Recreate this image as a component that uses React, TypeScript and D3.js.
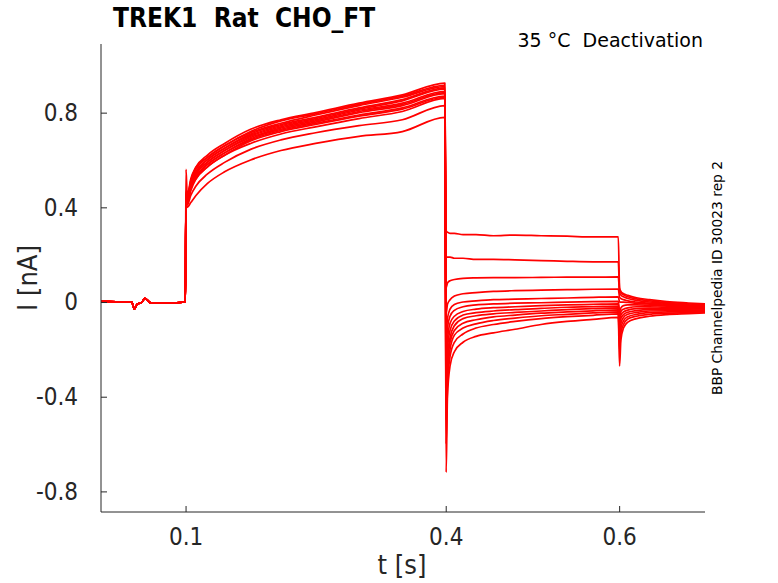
import { useEffect, useRef } from 'react'
import * as d3 from 'd3'

// holding period before the step (shared by all sweeps)
const baseTimes = [0.0025, 0.02, 0.038, 0.041, 0.044, 0.05, 0.053, 0.06, 0.08, 0.0998]
const baseValues = [0.002, 0.001, 0.0, -0.03, -0.01, 0.0, 0.016, -0.004, -0.004, 0.0]

// activating step 0.1 - 0.4 s
const actTimes = [0.1005, 0.102, 0.106, 0.112, 0.125, 0.145, 0.175, 0.21, 0.25, 0.3, 0.35, 0.399]
const actValues = [
  [0.56, 0.45, 0.52, 0.57, 0.62, 0.67, 0.73, 0.77, 0.8, 0.84, 0.875, 0.925],
  [0.47, 0.44, 0.51, 0.57, 0.61, 0.66, 0.72, 0.765, 0.795, 0.835, 0.87, 0.915],
  [0.46, 0.44, 0.51, 0.56, 0.61, 0.66, 0.715, 0.755, 0.79, 0.83, 0.865, 0.91],
  [0.46, 0.44, 0.5, 0.55, 0.6, 0.65, 0.71, 0.75, 0.78, 0.82, 0.855, 0.905],
  [0.46, 0.43, 0.5, 0.55, 0.6, 0.65, 0.705, 0.745, 0.775, 0.815, 0.85, 0.9],
  [0.45, 0.43, 0.49, 0.54, 0.59, 0.64, 0.7, 0.74, 0.77, 0.81, 0.84, 0.89],
  [0.45, 0.43, 0.49, 0.54, 0.59, 0.64, 0.695, 0.735, 0.765, 0.805, 0.835, 0.885],
  [0.45, 0.43, 0.49, 0.53, 0.58, 0.63, 0.69, 0.73, 0.76, 0.8, 0.83, 0.88],
  [0.45, 0.42, 0.48, 0.53, 0.58, 0.63, 0.685, 0.725, 0.755, 0.79, 0.82, 0.87],
  [0.44, 0.42, 0.48, 0.52, 0.57, 0.62, 0.68, 0.72, 0.75, 0.785, 0.815, 0.865],
  [0.44, 0.42, 0.47, 0.52, 0.57, 0.62, 0.67, 0.71, 0.74, 0.775, 0.805, 0.86],
  [0.43, 0.41, 0.45, 0.49, 0.54, 0.59, 0.645, 0.685, 0.715, 0.745, 0.77, 0.83],
  [0.42, 0.4, 0.42, 0.45, 0.5, 0.55, 0.6, 0.64, 0.67, 0.7, 0.72, 0.78]
]

// deactivation tails 0.4 - 0.6 s
const tailTimes = [0.4005, 0.402, 0.405, 0.41, 0.42, 0.435, 0.455, 0.48, 0.51, 0.54, 0.57, 0.599]
const tailValues = [
  [0.3, 0.295, 0.29, 0.29, 0.285, 0.285, 0.28, 0.283, 0.28, 0.278, 0.275, 0.275],
  [0.19, 0.19, 0.19, 0.185, 0.185, 0.18, 0.18, 0.178, 0.175, 0.172, 0.17, 0.17],
  [0.06, 0.08, 0.09, 0.095, 0.1, 0.102, 0.103, 0.103, 0.104, 0.105, 0.105, 0.106],
  [-0.05, -0.01, 0.01, 0.025, 0.035, 0.04, 0.045, 0.048, 0.05, 0.052, 0.054, 0.055],
  [-0.12, -0.07, -0.03, -0.01, 0.0, 0.005, 0.01, 0.012, 0.015, 0.017, 0.02, 0.022],
  [-0.18, -0.11, -0.06, -0.035, -0.02, -0.012, -0.008, -0.005, -0.003, 0.0, 0.002, 0.003],
  [-0.24, -0.16, -0.09, -0.06, -0.04, -0.03, -0.024, -0.02, -0.015, -0.012, -0.01, -0.008],
  [-0.3, -0.2, -0.12, -0.08, -0.055, -0.045, -0.038, -0.032, -0.027, -0.022, -0.02, -0.017],
  [-0.36, -0.24, -0.15, -0.1, -0.07, -0.058, -0.05, -0.044, -0.038, -0.032, -0.028, -0.025],
  [-0.43, -0.28, -0.17, -0.12, -0.09, -0.075, -0.063, -0.055, -0.047, -0.042, -0.037, -0.033],
  [-0.5, -0.32, -0.2, -0.14, -0.11, -0.092, -0.078, -0.068, -0.058, -0.052, -0.046, -0.042],
  [-0.6, -0.36, -0.23, -0.17, -0.135, -0.11, -0.095, -0.082, -0.07, -0.062, -0.056, -0.05],
  [-0.72, -0.4, -0.27, -0.21, -0.17, -0.145, -0.13, -0.115, -0.095, -0.082, -0.073, -0.065]
]

// return to holding 0.6 s - end
const postTimes = [0.6005, 0.602, 0.605, 0.61, 0.62, 0.635, 0.655, 0.68, 0.699]
const postValues = [
  [0.06, 0.045, 0.035, 0.028, 0.018, 0.01, 0.002, -0.004, -0.008],
  [0.05, 0.04, 0.03, 0.022, 0.013, 0.005, -0.002, -0.008, -0.012],
  [0.04, 0.03, 0.022, 0.015, 0.007, 0.0, -0.006, -0.012, -0.015],
  [0.02, 0.015, 0.01, 0.005, 0.0, -0.005, -0.01, -0.015, -0.018],
  [0.0, 0.0, 0.0, -0.002, -0.005, -0.009, -0.013, -0.018, -0.021],
  [-0.04, -0.025, -0.015, -0.012, -0.012, -0.014, -0.017, -0.021, -0.024],
  [-0.06, -0.04, -0.03, -0.025, -0.02, -0.02, -0.022, -0.025, -0.027],
  [-0.08, -0.055, -0.042, -0.034, -0.028, -0.026, -0.027, -0.029, -0.03],
  [-0.1, -0.07, -0.053, -0.043, -0.036, -0.032, -0.032, -0.033, -0.034],
  [-0.13, -0.09, -0.065, -0.052, -0.044, -0.038, -0.037, -0.037, -0.037],
  [-0.16, -0.11, -0.08, -0.062, -0.052, -0.045, -0.042, -0.041, -0.04],
  [-0.2, -0.13, -0.095, -0.072, -0.06, -0.052, -0.047, -0.045, -0.043],
  [-0.27, -0.16, -0.11, -0.085, -0.07, -0.06, -0.053, -0.049, -0.046]
]

const xTicks = [0.1, 0.4, 0.6]
const yTicks = [-0.8, -0.4, 0, 0.4, 0.8]

const title = 'TREK1  Rat  CHO_FT'
const subtitle = '35 °C  Deactivation'
const sideNote = 'BBP Channelpedia ID 30023 rep 2'

const W = 778
const H = 583
const axisColor = '#262626'
const font = 'DejaVu Sans, sans-serif'
const condFont = '"DejaVu Sans Condensed", "DejaVu Sans", sans-serif'

export default function App() {
  const svgRef = useRef<SVGSVGElement>(null)

  useEffect(() => {
    if (!svgRef.current) return
    const svg = d3.select(svgRef.current)
    svg.selectAll('*').remove()

    const x = d3.scaleLinear().domain([0.0025, 0.699]).range([101, 705])
    const y = d3.scaleLinear().domain([-0.887, 1.09]).range([512, 44])

    const sweeps = actValues.map((_, i) => {
      const pts: [number, number][] = []
      baseTimes.forEach((t, j) => pts.push([t, baseValues[j]]))
      actTimes.forEach((t, j) => pts.push([t, actValues[i][j]]))
      tailTimes.forEach((t, j) => pts.push([t, tailValues[i][j]]))
      postTimes.forEach((t, j) => pts.push([t, postValues[i][j]]))
      return pts
    })

    const line = d3.line<[number, number]>()
      .x(d => x(d[0]))
      .y(d => y(d[1]))
      .curve(d3.curveMonotoneX)

    svg.append('g')
      .selectAll('path')
      .data(sweeps)
      .enter()
      .append('path')
      .attr('d', line)
      .attr('fill', 'none')
      .attr('stroke', '#ff0000')
      .attr('stroke-width', 1.7)
      .attr('stroke-linejoin', 'round')

    // axes (ticks point inward, no box)
    const yAxis = svg.append('g')
      .attr('transform', `translate(${x.range()[0]},0)`)
      .call(d3.axisLeft(y).tickValues(yTicks).tickSize(-6).tickPadding(23).tickFormat(d => String(d)))
    const xAxis = svg.append('g')
      .attr('transform', `translate(0,${y.range()[0]})`)
      .call(d3.axisBottom(x).tickValues(xTicks).tickSize(-6).tickPadding(16).tickFormat(d => String(d)))

    for (const ax of [xAxis, yAxis]) {
      ax.select('.domain').remove()
      ax.selectAll('.tick line').attr('stroke', axisColor)
      ax.selectAll('.tick text')
        .attr('fill', axisColor)
        .style('font-family', condFont)
        .style('font-stretch', 'condensed')
        .style('font-size', '24px')
    }
    svg.append('line')
      .attr('x1', x.range()[0]).attr('x2', x.range()[0])
      .attr('y1', y.range()[1]).attr('y2', y.range()[0])
      .attr('stroke', axisColor)
    svg.append('line')
      .attr('x1', x.range()[0]).attr('x2', x.range()[1])
      .attr('y1', y.range()[0]).attr('y2', y.range()[0])
      .attr('stroke', axisColor)

    // labels
    svg.append('text')
      .attr('x', 113).attr('y', 27)
      .style('font-family', condFont).style('font-stretch', 'condensed')
      .style('font-size', '26px').style('font-weight', 'bold')
      .style('white-space', 'pre')
      .text(title)

    svg.append('text')
      .attr('x', 703).attr('y', 47)
      .attr('text-anchor', 'end')
      .style('font-family', font).style('font-size', '19px')
      .style('white-space', 'pre')
      .text(subtitle)

    svg.append('text')
      .attr('transform', 'translate(722,278) rotate(-90)')
      .attr('text-anchor', 'middle')
      .style('font-family', font).style('font-size', '13.8px')
      .text(sideNote)

    svg.append('text')
      .attr('transform', 'translate(37,278) rotate(-90)')
      .attr('text-anchor', 'middle')
      .attr('fill', axisColor)
      .style('font-family', condFont).style('font-stretch', 'condensed')
      .style('font-size', '27px')
      .text('I [nA]')

    svg.append('text')
      .attr('x', 402).attr('y', 574)
      .attr('text-anchor', 'middle')
      .attr('fill', axisColor)
      .style('font-family', condFont).style('font-stretch', 'condensed')
      .style('font-size', '27px')
      .text('t [s]')
  }, [])

  return (
    <svg
      ref={svgRef}
      width={W}
      height={H}
      style={{ position: 'absolute', left: 0, top: 0, background: '#fff' }}
    />
  )
}
